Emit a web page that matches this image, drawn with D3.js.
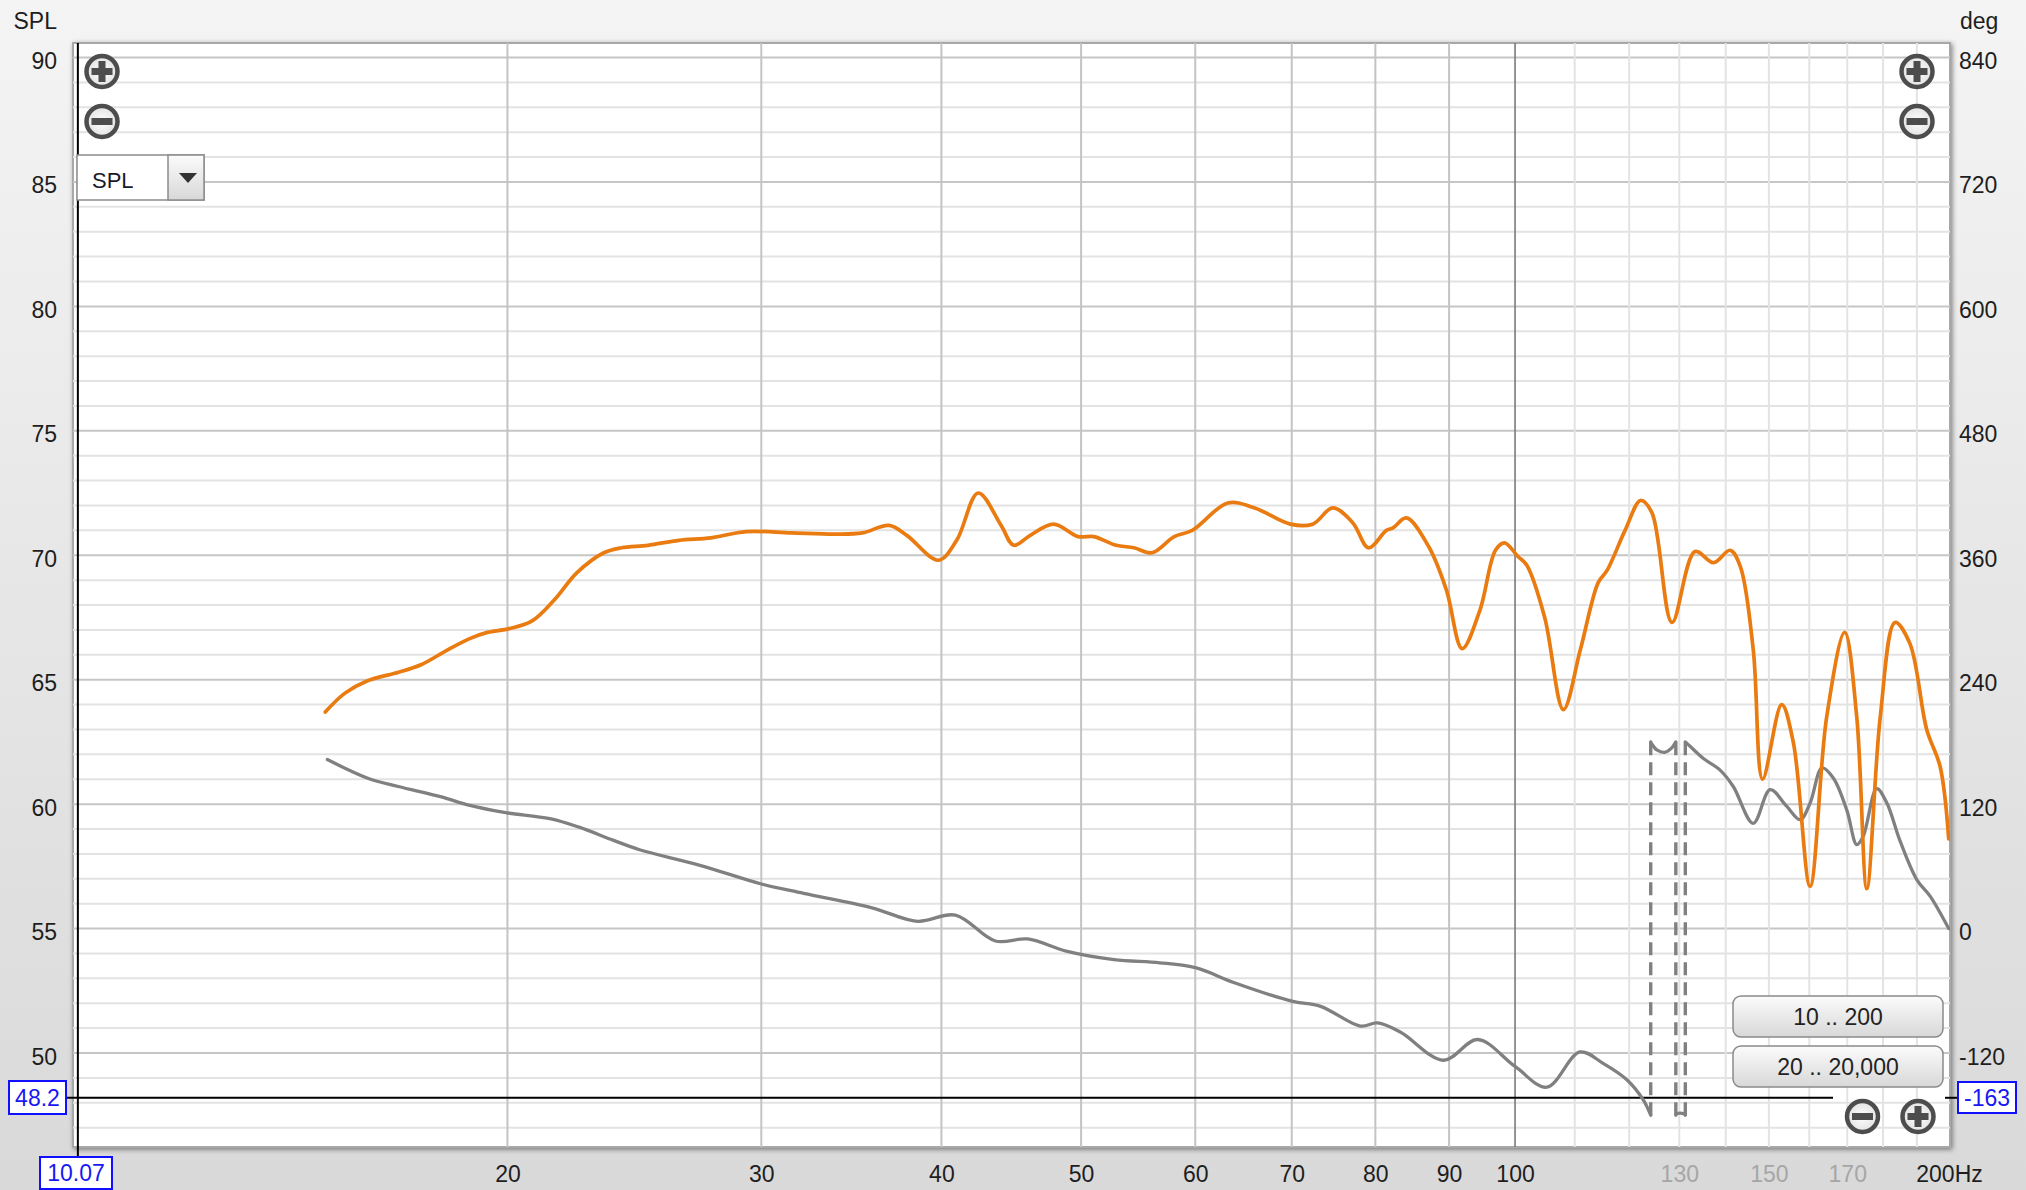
<!DOCTYPE html>
<html><head><meta charset="utf-8">
<script src="https://cdn.jsdelivr.net/npm/d3@7"></script>
<style>
html,body{margin:0;padding:0;background:#EEEEEE;overflow:hidden;}
svg{display:block;font-family:"Liberation Sans",Arial,sans-serif;}
</style></head><body>
<svg id="chart" width="2026" height="1190"></svg>
<script>
// ---------- data ----------
const splFreq = [14.95,15.42,15.98,16.81,17.42,18.18,18.83,19.37,20.06,20.79,21.55,22.35,23.33,24.0,25.03,26.3,27.68,29.29,31.47,33.8,35.26,36.79,37.85,39.81,40.99,42.42,44.0,44.9,46.1,47.85,49.76,51.03,52.88,54.41,55.99,58.02,59.71,63.21,65.98,69.84,72.38,74.74,77.18,79.13,81.42,82.29,84.07,87.11,89.62,91.9,94.55,96.92,98.34,100.46,101.9,104.85,108.03,110.99,114.2,115.86,119.21,122.22,124.45,128.5,133.3,137.3,141.0,143.3,146.3,148.5,153.1,156.0,160.2,164.5,169.3,172.6,175.4,179.2,183.5,187.9,193.0,197.2,199.9];
const splValues = [63.7,64.45,64.95,65.3,65.6,66.2,66.65,66.9,67.05,67.35,68.2,69.3,70.1,70.3,70.4,70.6,70.7,70.95,70.9,70.85,70.9,71.2,70.8,69.8,70.6,72.5,71.2,70.4,70.8,71.25,70.75,70.75,70.4,70.3,70.1,70.75,71.0,72.1,71.9,71.25,71.25,71.9,71.3,70.3,71.0,71.1,71.5,70.35,68.6,66.25,67.8,70.2,70.5,69.95,69.6,67.5,63.8,66.2,68.9,69.4,71.0,72.2,71.7,67.3,70.15,69.7,70.2,69.55,66.2,61.0,64.0,62.45,56.7,63.5,66.9,63.5,56.6,63.5,67.3,66.45,63.0,61.5,58.6];

// phase, unwrapped degrees (display wraps to -180..180)
const phaseFreq = [15.0,16.0,16.8,18.0,18.8,19.9,21.4,22.4,23.7,24.7,27.2,30.0,32.1,35.8,38.5,40.9,43.6,45.9,48.9,52.7,56.7,60.1,63.8,70.0,73.3,78.1,80.3,83.3,89.2,94.2,100.0,105.2,110.9,115.1,119.6,122.7,124.4,125.5,127.0,128.4,129.5,130.9,132.2,135.1,138.7,141.7,146.3,150.3,154.3,157.7,160.2,163.3,166.3,169.9,172.6,174.4,178.2,181.1,184.9,190.0,194.1,199.9];
const phaseValues = [163,145,137,127,119,112,106,98,85,76,61,43,34,20,7,13,-12,-10,-22,-30,-33,-38,-52,-70,-75,-94,-91,-100,-127,-107,-133,-153,-119,-130,-146,-165,-182,-188,-190,-186,-178.5,-178.5,-184,-196,-207,-223,-258.5,-226,-242,-255,-239,-205,-215,-246,-279,-271,-225,-239,-275,-313,-329,-360];

const splTicks = [90,85,80,75,70,65,60,55,50];
const degTicks = [840,720,600,480,360,240,120,0,-120];
const freqMajorGrid = [20,30,40,50,60,70,80,90];
const freqDecadeGrid = [100];
const freqMinorGrid = [110,120,130,140,150,160,170,180,190];
const freqLabelsDark = [20,30,40,50,60,70,80,90,100,200];
const freqLabelsLight = [130,150,170];
const cursorFreq = 10.07, cursorSPL = 48.2, cursorDeg = -163;
const rangeButtons = ["10 .. 200","20 .. 20,000"];
const selectorLabel = "SPL";

// ---------- layout ----------
const svg = d3.select("#chart");
const P = {left:73, right:1950, top:43, bottom:1147};
const x = d3.scaleLog().domain([10,200]).range([73.5,1949]);
const y = d3.scaleLinear().domain([90,50]).range([57.5,1053]);
const yDeg = d3.scaleLinear().domain([840,-120]).range([57.5,1053]);
const FS = 23;
const fmt = d => String(d);

const defs = svg.append("defs");
const bg = defs.append("linearGradient").attr("id","bgGrad").attr("x1",0).attr("y1",0).attr("x2",0).attr("y2",1);
bg.append("stop").attr("offset","0%").attr("stop-color","#F4F4F4");
bg.append("stop").attr("offset","100%").attr("stop-color","#D9D9D9");
const btn = defs.append("linearGradient").attr("id","btnGrad").attr("x1",0).attr("y1",0).attr("x2",0).attr("y2",1);
btn.append("stop").attr("offset","0%").attr("stop-color","#FBFBFB");
btn.append("stop").attr("offset","100%").attr("stop-color","#D8D8D8");
const ic = defs.append("radialGradient").attr("id","iconFill");
ic.append("stop").attr("offset","0%").attr("stop-color","#FFFFFF");
ic.append("stop").attr("offset","100%").attr("stop-color","#E2E2E2");
const sh = defs.append("filter").attr("id","shadow").attr("x","-5%").attr("y","-5%").attr("width","110%").attr("height","110%");
sh.append("feDropShadow").attr("dx",1.5).attr("dy",1.5).attr("stdDeviation",2.5).attr("flood-color","#000").attr("flood-opacity",0.45);
defs.append("clipPath").attr("id","plotClip").append("rect")
  .attr("x",P.left).attr("y",P.top).attr("width",P.right-P.left).attr("height",P.bottom-P.top);

svg.append("rect").attr("width",2026).attr("height",1190).attr("fill","url(#bgGrad)");

// plot frame
svg.append("rect").attr("x",P.left).attr("y",P.top).attr("width",P.right-P.left).attr("height",P.bottom-P.top)
  .attr("fill","#FFFFFF").attr("stroke","#A8A8A8").attr("stroke-width",2).attr("filter","url(#shadow)");

const grid = svg.append("g").attr("clip-path","url(#plotClip)");
d3.range(47,91).forEach(v=>{
  grid.append("line").attr("x1",P.left).attr("x2",P.right).attr("y1",y(v)).attr("y2",y(v))
    .attr("stroke", v%5===0 ? "#C6C6C6" : "#E3E3E3").attr("stroke-width",2);
});
freqMinorGrid.forEach(f=>{
  grid.append("line").attr("x1",x(f)).attr("x2",x(f)).attr("y1",P.top).attr("y2",P.bottom)
    .attr("stroke","#E3E3E3").attr("stroke-width",2);
});
freqMajorGrid.forEach(f=>{
  grid.append("line").attr("x1",x(f)).attr("x2",x(f)).attr("y1",P.top).attr("y2",P.bottom)
    .attr("stroke","#C4C4C4").attr("stroke-width",2);
});
freqDecadeGrid.forEach(f=>{
  grid.append("line").attr("x1",x(f)).attr("x2",x(f)).attr("y1",P.top).attr("y2",P.bottom)
    .attr("stroke","#7A7A7A").attr("stroke-width",1.6);
});

// cursor lines
svg.append("line").attr("x1",66).attr("x2",1833).attr("y1",y(cursorSPL)).attr("y2",y(cursorSPL))
  .attr("stroke","#000").attr("stroke-width",2);
svg.append("line").attr("x1",1945).attr("x2",1958).attr("y1",y(cursorSPL)).attr("y2",y(cursorSPL))
  .attr("stroke","#000").attr("stroke-width",2);
svg.append("line").attr("x1",x(cursorFreq)).attr("x2",x(cursorFreq)).attr("y1",P.top).attr("y2",1157)
  .attr("stroke","#000").attr("stroke-width",2);

// ---------- phase (wrapped) ----------
const band = d=>Math.floor((d+180)/360);
const wrap = d=>d-360*band(d);
const segs=[], jumps=[];
let cur=[];
phaseFreq.forEach((f,i)=>{
  const p=phaseValues[i];
  if(i>0){
    const f0=phaseFreq[i-1], p0=phaseValues[i-1];
    const b0=band(p0), b1=band(p);
    if(b0!==b1){
      const down = p<p0;
      const bound = down ? -180+360*b0 : -180+360*b1;
      const t=(bound-p0)/(p-p0);
      const fc=Math.exp(Math.log(f0)+t*(Math.log(f)-Math.log(f0)));
      cur.push([fc, down?-180:180]); segs.push(cur);
      cur=[[fc, down?180:-180]]; jumps.push(fc);
    }
  }
  cur.push([f,wrap(p)]);
});
segs.push(cur);

const plotG = svg.append("g").attr("clip-path","url(#plotClip)");
const phaseLine = d3.line().x(d=>x(d[0])).y(d=>yDeg(d[1])).curve(d3.curveCatmullRom.alpha(0.5));
jumps.forEach(fc=>{
  plotG.append("line").attr("x1",x(fc)).attr("x2",x(fc)).attr("y1",yDeg(-180)).attr("y2",yDeg(180))
    .attr("stroke","#808080").attr("stroke-width",3.4).attr("stroke-dasharray","13,7");
});
segs.forEach(s=>{
  plotG.append("path").datum(s).attr("d",phaseLine).attr("fill","none")
    .attr("stroke","#808080").attr("stroke-width",3.3).attr("stroke-linejoin","round").attr("stroke-linecap","round");
});

// ---------- SPL ----------
const splData = splFreq.map((f,i)=>[f,splValues[i]]);
const splLine = d3.line().x(d=>x(d[0])).y(d=>y(d[1])).curve(d3.curveCatmullRom.alpha(0.5));
plotG.append("path").datum(splData).attr("d",splLine).attr("fill","none")
  .attr("stroke","#EA7B10").attr("stroke-width",3.7).attr("stroke-linejoin","round").attr("stroke-linecap","round");

// ---------- axes ----------
const axL = svg.append("g").attr("transform","translate(57,0)")
  .call(d3.axisLeft(y).tickValues(splTicks).tickSize(0).tickPadding(0).tickFormat(fmt));
axL.select(".domain").remove();
axL.selectAll("text").attr("dy",null).attr("y",11).attr("font-size",FS).attr("fill","#1E1E1E")
  .attr("font-family","Liberation Sans, Arial, sans-serif");

const axR = svg.append("g").attr("transform","translate(1959,0)")
  .call(d3.axisRight(yDeg).tickValues(degTicks).tickSize(0).tickPadding(0).tickFormat(fmt));
axR.select(".domain").remove();
axR.selectAll("text").attr("dy",null).attr("y",11).attr("font-size",FS).attr("fill","#1E1E1E")
  .attr("font-family","Liberation Sans, Arial, sans-serif");

const axB = svg.append("g").attr("transform","translate(0,1182)")
  .call(d3.axisBottom(x).tickValues(freqLabelsDark.concat(freqLabelsLight)).tickSize(0).tickPadding(0)
    .tickFormat(d=> d===200 ? "200Hz" : String(d)));
axB.select(".domain").remove();
axB.selectAll("text").attr("dy",null).attr("y",0).attr("font-size",FS)
  .attr("font-family","Liberation Sans, Arial, sans-serif")
  .attr("fill",d=> freqLabelsLight.includes(d) ? "#A6A6A6" : "#1E1E1E");

svg.append("text").attr("x",57).attr("y",29).attr("text-anchor","end").attr("font-size",FS).attr("fill","#1E1E1E").text("SPL");
svg.append("text").attr("x",1960).attr("y",29).attr("text-anchor","start").attr("font-size",FS).attr("fill","#1E1E1E").text("deg");

// cursor value boxes
function valueBox(x0,y0,w,h,txt){
  svg.append("rect").attr("x",x0).attr("y",y0).attr("width",w).attr("height",h)
    .attr("fill","#FFFFFF").attr("stroke","#1010FF").attr("stroke-width",2);
  svg.append("text").attr("x",x0+w/2).attr("y",y0+h/2+8).attr("text-anchor","middle")
    .attr("font-size",FS).attr("fill","#1818F0").text(txt);
}
valueBox(9,1081,57,33,String(cursorSPL));
valueBox(40,1157,72,32,cursorFreq.toFixed(2));
valueBox(1958,1082,58,31,String(cursorDeg));

// zoom icons
function zoomIcon(cx,cy,plus){
  const g=svg.append("g");
  g.append("circle").attr("cx",cx).attr("cy",cy).attr("r",15.5).attr("fill","url(#iconFill)")
    .attr("stroke","#4D4D4D").attr("stroke-width",4.5);
  g.append("rect").attr("x",cx-10.5).attr("y",cy-3.5).attr("width",21).attr("height",7).attr("fill","#4D4D4D");
  if(plus) g.append("rect").attr("x",cx-3.5).attr("y",cy-10.5).attr("width",7).attr("height",21).attr("fill","#4D4D4D");
}
zoomIcon(102,71.5,true); zoomIcon(102,121.5,false);
zoomIcon(1917,71.5,true); zoomIcon(1917,121.5,false);
zoomIcon(1862.5,1116.5,false); zoomIcon(1918,1116.5,true);

// selector
svg.append("rect").attr("x",77).attr("y",155).attr("width",127).attr("height",45).attr("fill","#FFFFFF").attr("stroke","#8C8C8C").attr("stroke-width",1.5);
svg.append("rect").attr("x",168).attr("y",155).attr("width",36).attr("height",45).attr("fill","url(#btnGrad)").attr("stroke","#8C8C8C").attr("stroke-width",1.5);
svg.append("path").attr("d","M179,173 L197,173 L188,183 Z").attr("fill","#333");
svg.append("text").attr("x",92).attr("y",188).attr("font-size",22).attr("fill","#1A1A2A").text(selectorLabel);

// range buttons
rangeButtons.forEach((t,i)=>{
  const by = 996 + i*50;
  svg.append("rect").attr("x",1733).attr("y",by).attr("width",210).attr("height",41).attr("rx",8)
    .attr("fill","url(#btnGrad)").attr("stroke","#8A8A8A").attr("stroke-width",1.5);
  svg.append("text").attr("x",1838).attr("y",by+29).attr("text-anchor","middle").attr("font-size",FS)
    .attr("fill","#222").text(t);
});
</script>
</body></html>
